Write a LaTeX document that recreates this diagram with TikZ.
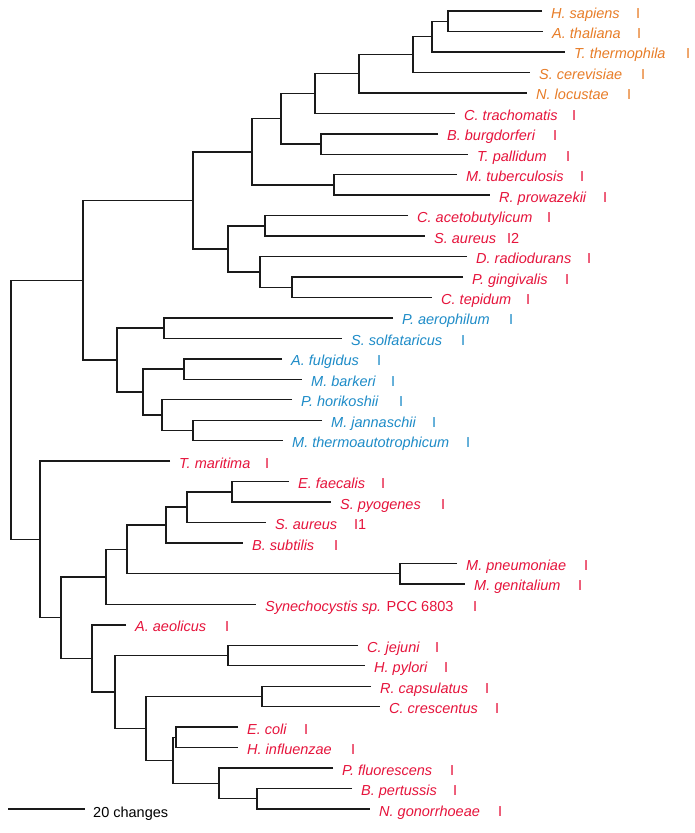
\documentclass[tikz,border=0pt]{standalone}
\usepackage{fontspec}
\setmainfont{Liberation Sans}
\usetikzlibrary{calc}
\definecolor{eukc}{HTML}{E87D28}
\definecolor{bacc}{HTML}{E6143C}
\definecolor{arcc}{HTML}{1E8CC8}
\definecolor{linec}{HTML}{1A1A1A}
\newcommand\leafnode[7]{%
  \coordinate (#1) at (#2,#3);
  \node[lab,#4,anchor=base west] (#1L) at ([xshift=9pt,yshift=-7pt]#1) {#5};
  \node[barlab,#4,anchor=base west] (#1B) at ({#6-1},{#3+7}) {#7};
}
\newcommand\innode[4]{%
  \path let \p1=(#3), \p2=(#4) in ({#2pt},{(\y1+\y2)/2}) coordinate (#1);
  \draw[br] (#3) -| (#1) |- (#4);
}
\begin{document}
\begin{tikzpicture}[x=1pt,y=-1pt,
  lab/.style={inner sep=0pt,font=\fontsize{14.5}{17}\selectfont\itshape},
  barlab/.style={inner sep=0pt,font=\fontsize{14.5}{17}\selectfont\upshape},
  euk/.style={text=eukc},
  bac/.style={text=bacc},
  arc/.style={text=arcc},
  br/.style={draw=linec,line width=1.4pt}]
\path[fill=white,use as bounding box] (0,0) rectangle (694,833);
% leaves
\leafnode{hsap}{542}{11.0}{euk}{H. sapiens}{637}{I}
\leafnode{atha}{543}{31.5}{euk}{A. thaliana}{638}{I}
\leafnode{tthe}{565}{51.9}{euk}{T. thermophila}{687}{I}
\leafnode{scer}{530}{72.4}{euk}{S. cerevisiae}{642}{I}
\leafnode{nloc}{527}{92.8}{euk}{N. locustae}{628}{I}
\leafnode{ctra}{455}{113.3}{bac}{C. trachomatis}{573}{I}
\leafnode{bbur}{438}{133.8}{bac}{B. burgdorferi}{554}{I}
\leafnode{tpal}{468}{154.2}{bac}{T. pallidum}{567}{I}
\leafnode{mtub}{457}{174.7}{bac}{M. tuberculosis}{581}{I}
\leafnode{rpro}{490}{195.1}{bac}{R. prowazekii}{604}{I}
\leafnode{cace}{408}{215.6}{bac}{C. acetobutylicum}{548}{I}
\leafnode{saurb}{425}{236.1}{bac}{S. aureus}{508}{I2}
\leafnode{drad}{467}{256.5}{bac}{D. radiodurans}{588}{I}
\leafnode{pgin}{463}{277.0}{bac}{P. gingivalis}{566}{I}
\leafnode{ctep}{432}{297.4}{bac}{C. tepidum}{527}{I}
\leafnode{paer}{393}{317.9}{arc}{P. aerophilum}{510}{I}
\leafnode{ssol}{342}{338.4}{arc}{S. solfataricus}{462}{I}
\leafnode{aful}{282}{358.8}{arc}{A. fulgidus}{378}{I}
\leafnode{mbar}{302}{379.3}{arc}{M. barkeri}{392}{I}
\leafnode{phor}{292}{399.7}{arc}{P. horikoshii}{400}{I}
\leafnode{mjan}{322}{420.2}{arc}{M. jannaschii}{433}{I}
\leafnode{mthe}{283}{440.7}{arc}{M. thermoautotrophicum}{467}{I}
\leafnode{tmar}{170}{461.1}{bac}{T. maritima}{266}{I}
\leafnode{efae}{289}{481.6}{bac}{E. faecalis}{382}{I}
\leafnode{spyo}{331}{502.0}{bac}{S. pyogenes}{442}{I}
\leafnode{saura}{266}{522.5}{bac}{S. aureus}{355}{I1}
\leafnode{bsub}{243}{543.0}{bac}{B. subtilis}{335}{I}
\leafnode{mpne}{457}{563.4}{bac}{M. pneumoniae}{585}{I}
\leafnode{mgen}{465}{583.9}{bac}{M. genitalium}{579}{I}
\leafnode{syne}{256}{604.3}{bac}{Synechocystis sp. \upshape PCC 6803}{474}{I}
\leafnode{aaeo}{126}{624.8}{bac}{A. aeolicus}{226}{I}
\leafnode{cjej}{358}{645.3}{bac}{C. jejuni}{436}{I}
\leafnode{hpyl}{365}{665.7}{bac}{H. pylori}{445}{I}
\leafnode{rcap}{371}{686.2}{bac}{R. capsulatus}{486}{I}
\leafnode{ccre}{380}{706.6}{bac}{C. crescentus}{496}{I}
\leafnode{ecol}{238}{727.1}{bac}{E. coli}{305}{I}
\leafnode{hinf}{238}{747.6}{bac}{H. influenzae}{352}{I}
\leafnode{pflu}{333}{768.0}{bac}{P. fluorescens}{451}{I}
\leafnode{bper}{352}{788.5}{bac}{B. pertussis}{454}{I}
\leafnode{ngon}{370}{809.0}{bac}{N. gonorrhoeae}{499}{I}
% upper clade
\innode{nHA}{448}{hsap}{atha}
\innode{nHAT}{432}{nHA}{tthe}
\innode{nHATS}{413}{nHAT}{scer}
\innode{nEuk}{359}{nHATS}{nloc}
\innode{nEC}{315}{nEuk}{ctra}
\innode{nBT}{321}{bbur}{tpal}
\innode{nECBT}{281}{nEC}{nBT}
\innode{nMR}{334}{mtub}{rpro}
\innode{nAone}{252}{nECBT}{nMR}
\innode{nCS}{265}{cace}{saurb}
\innode{nPC}{292}{pgin}{ctep}
\innode{nDPC}{260}{drad}{nPC}
\innode{nCSDPC}{228}{nCS}{nDPC}
\innode{nTop}{193}{nAone}{nCSDPC}
\innode{nPS}{164}{paer}{ssol}
\innode{nAM}{184}{aful}{mbar}
\innode{nMM}{193}{mjan}{mthe}
\innode{nPMM}{162}{phor}{nMM}
\innode{nAMPMM}{143}{nAM}{nPMM}
\innode{nArch}{117}{nPS}{nAMPMM}
\innode{nUp}{83}{nTop}{nArch}
% lower clade
\innode{nEfSp}{232}{efae}{spyo}
\innode{nEfSpSa}{187}{nEfSp}{saura}
\innode{nFirm}{166}{nEfSpSa}{bsub}
\innode{nMyco}{400}{mpne}{mgen}
\innode{nBacMyco}{127}{nFirm}{nMyco}
\innode{nFS}{106}{nBacMyco}{syne}
\innode{nCH}{228}{cjej}{hpyl}
\innode{nRC}{262}{rcap}{ccre}
\innode{nEH}{176}{ecol}{hinf}
\innode{nBN}{257}{bper}{ngon}
\innode{nPBN}{219}{pflu}{nBN}
\innode{nGB}{173}{nEH}{nPBN}
\innode{nABG}{146}{nRC}{nGB}
\innode{nProt}{115}{nCH}{nABG}
\innode{nPA}{92}{aaeo}{nProt}
\innode{nFSPA}{61}{nFS}{nPA}
\innode{nLow}{40}{tmar}{nFSPA}
\innode{root}{11}{nUp}{nLow}
% scale bar
\coordinate (sbA) at (8,809);
\coordinate (sbB) at (85,809);
\draw[br] (sbA) -- (sbB);
\node[barlab,text=black,anchor=base west] (sbL) at (93,817) {20 changes};
\end{tikzpicture}
\end{document}
